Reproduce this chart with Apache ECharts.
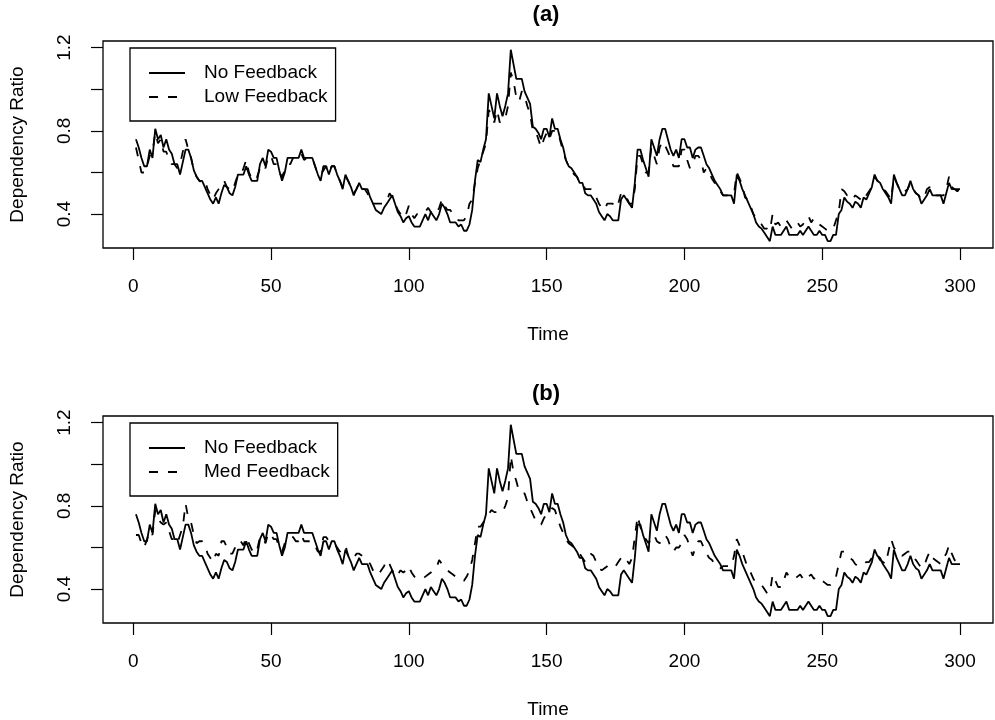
<!DOCTYPE html>
<html>
<head>
<meta charset="utf-8">
<script src="https://cdn.jsdelivr.net/npm/echarts@6/dist/echarts.min.js"></script>
<style>html,body{margin:0;padding:0;background:#fff;}#c{width:995px;height:720px;}</style>
</head>
<body>
<div id="c"></div>
<script>
const xTicks = [0, 50, 100, 150, 200, 250, 300];
const yTicks = [0.4, 0.6, 0.8, 1.0, 1.2];
const yLabels = [0.4, 0.8, 1.2];
const panelTitles = ['(a)', '(b)'];
const noFb = [
0.76,0.72,0.67,0.63,0.63,0.71,0.67,0.81,0.76,0.78,
0.72,0.76,0.71,0.69,0.64,0.64,0.59,0.65,0.71,0.71,
0.67,0.61,0.58,0.56,0.56,0.53,0.50,0.47,0.45,0.48,
0.45,0.50,0.54,0.53,0.50,0.49,0.53,0.59,0.59,0.59,
0.63,0.59,0.56,0.56,0.56,0.64,0.67,0.63,0.71,0.70,
0.67,0.67,0.61,0.56,0.60,0.67,0.67,0.67,0.67,0.67,
0.71,0.67,0.67,0.67,0.67,0.63,0.59,0.56,0.63,0.63,
0.59,0.63,0.63,0.59,0.56,0.52,0.59,0.56,0.53,0.49,
0.52,0.55,0.52,0.52,0.52,0.48,0.45,0.42,0.41,0.40,
0.43,0.45,0.47,0.49,0.45,0.41,0.39,0.36,0.38,0.39,
0.36,0.34,0.34,0.34,0.37,0.40,0.37,0.41,0.39,0.37,
0.40,0.45,0.43,0.40,0.36,0.36,0.36,0.34,0.35,0.32,
0.32,0.35,0.42,0.56,0.66,0.65,0.71,0.76,0.98,0.92,
0.86,0.98,0.92,0.87,0.92,0.98,1.19,1.12,1.05,1.05,
1.05,0.99,0.96,0.93,0.82,0.81,0.79,0.76,0.81,0.81,
0.77,0.86,0.81,0.81,0.76,0.72,0.66,0.63,0.62,0.60,
0.58,0.55,0.55,0.50,0.49,0.49,0.47,0.45,0.41,0.39,
0.37,0.40,0.39,0.37,0.37,0.37,0.47,0.49,0.47,0.45,
0.43,0.55,0.71,0.71,0.66,0.62,0.58,0.76,0.72,0.68,
0.76,0.81,0.81,0.76,0.71,0.68,0.71,0.67,0.76,0.76,
0.72,0.72,0.67,0.71,0.72,0.72,0.68,0.64,0.62,0.59,
0.56,0.54,0.52,0.49,0.49,0.49,0.49,0.45,0.59,0.56,
0.52,0.49,0.46,0.43,0.40,0.36,0.34,0.33,0.31,0.29,
0.27,0.34,0.30,0.30,0.30,0.32,0.34,0.30,0.30,0.30,
0.30,0.32,0.30,0.32,0.34,0.32,0.30,0.30,0.32,0.30,
0.30,0.27,0.27,0.30,0.30,0.40,0.42,0.48,0.46,0.45,
0.43,0.46,0.45,0.43,0.48,0.47,0.50,0.53,0.59,0.56,
0.55,0.52,0.50,0.48,0.45,0.59,0.55,0.52,0.49,0.49,
0.52,0.56,0.52,0.50,0.49,0.45,0.47,0.49,0.52,0.49,
0.49,0.49,0.49,0.45,0.50,0.55,0.52,0.52,0.52,0.52];
const lowFb = [
0.72,0.66,0.60,0.60,0.63,0.68,0.70,0.79,0.74,0.76,
0.70,0.70,0.66,0.64,0.64,0.62,0.64,0.70,0.76,0.71,
0.67,0.61,0.58,0.56,0.55,0.56,0.52,0.49,0.47,0.50,
0.52,0.54,0.56,0.53,0.52,0.51,0.55,0.59,0.59,0.62,
0.66,0.60,0.57,0.56,0.58,0.62,0.64,0.62,0.68,0.68,
0.64,0.64,0.60,0.58,0.61,0.64,0.64,0.67,0.67,0.67,
0.69,0.66,0.67,0.67,0.67,0.63,0.59,0.59,0.61,0.63,
0.60,0.63,0.63,0.59,0.56,0.53,0.58,0.56,0.53,0.50,
0.52,0.55,0.52,0.52,0.50,0.47,0.45,0.45,0.45,0.45,
0.45,0.46,0.50,0.48,0.45,0.42,0.40,0.38,0.40,0.44,
0.40,0.38,0.40,0.40,0.40,0.41,0.43,0.41,0.40,0.40,
0.43,0.47,0.44,0.42,0.42,0.40,0.39,0.37,0.37,0.37,
0.39,0.45,0.47,0.55,0.62,0.66,0.70,0.74,0.90,0.88,
0.84,0.90,0.84,0.86,0.86,0.92,1.08,1.04,0.96,0.94,
0.99,0.97,0.92,0.88,0.80,0.80,0.76,0.72,0.76,0.79,
0.76,0.80,0.80,0.80,0.75,0.70,0.66,0.63,0.61,0.59,
0.58,0.55,0.55,0.52,0.52,0.52,0.51,0.48,0.45,0.43,
0.42,0.45,0.45,0.45,0.43,0.45,0.50,0.48,0.48,0.45,
0.45,0.52,0.68,0.68,0.64,0.60,0.60,0.72,0.68,0.64,
0.72,0.75,0.73,0.70,0.67,0.63,0.63,0.63,0.71,0.71,
0.66,0.62,0.64,0.68,0.68,0.66,0.60,0.62,0.60,0.57,
0.55,0.54,0.51,0.49,0.49,0.49,0.49,0.50,0.60,0.57,
0.54,0.48,0.47,0.44,0.40,0.38,0.36,0.35,0.33,0.33,
0.32,0.40,0.35,0.36,0.34,0.35,0.37,0.35,0.33,0.34,
0.36,0.34,0.35,0.38,0.39,0.36,0.38,0.37,0.35,0.34,
0.33,0.32,0.33,0.33,0.37,0.41,0.52,0.51,0.49,0.49,
0.47,0.49,0.48,0.47,0.50,0.49,0.51,0.53,0.58,0.56,
0.55,0.52,0.51,0.49,0.47,0.58,0.55,0.52,0.50,0.51,
0.52,0.55,0.52,0.50,0.49,0.47,0.48,0.52,0.53,0.50,
0.49,0.49,0.49,0.49,0.52,0.58,0.53,0.52,0.51,0.52];
const medFb = [
0.66,0.66,0.62,0.60,0.64,0.68,0.66,0.78,0.74,0.72,
0.71,0.72,0.68,0.64,0.64,0.62,0.66,0.70,0.81,0.74,
0.72,0.66,0.62,0.63,0.63,0.61,0.57,0.55,0.53,0.57,
0.56,0.63,0.63,0.60,0.57,0.57,0.60,0.63,0.63,0.61,
0.65,0.62,0.59,0.57,0.59,0.65,0.65,0.62,0.67,0.66,
0.64,0.64,0.60,0.58,0.62,0.64,0.65,0.65,0.63,0.63,
0.66,0.63,0.63,0.63,0.63,0.61,0.58,0.58,0.65,0.65,
0.63,0.63,0.62,0.60,0.58,0.60,0.61,0.56,0.57,0.55,
0.57,0.57,0.56,0.55,0.54,0.52,0.49,0.47,0.47,0.49,
0.51,0.54,0.52,0.49,0.46,0.47,0.49,0.48,0.49,0.51,
0.48,0.46,0.45,0.45,0.45,0.46,0.47,0.48,0.49,0.50,
0.54,0.52,0.50,0.49,0.48,0.47,0.46,0.45,0.44,0.44,
0.46,0.49,0.54,0.62,0.70,0.70,0.72,0.74,0.76,0.78,
0.77,0.77,0.77,0.77,0.80,0.84,1.04,0.96,0.92,0.87,
0.86,0.86,0.82,0.79,0.76,0.73,0.71,0.71,0.74,0.76,
0.77,0.79,0.78,0.74,0.70,0.67,0.64,0.62,0.61,0.60,
0.58,0.57,0.55,0.53,0.55,0.57,0.56,0.53,0.50,0.49,
0.50,0.51,0.52,0.52,0.51,0.53,0.55,0.53,0.54,0.52,
0.55,0.65,0.75,0.70,0.66,0.64,0.62,0.65,0.66,0.63,
0.62,0.64,0.66,0.64,0.60,0.58,0.60,0.60,0.62,0.66,
0.64,0.60,0.56,0.60,0.63,0.63,0.60,0.57,0.55,0.54,
0.52,0.50,0.50,0.51,0.51,0.51,0.51,0.56,0.64,0.61,
0.58,0.54,0.50,0.48,0.45,0.43,0.42,0.42,0.40,0.38,
0.38,0.47,0.44,0.41,0.41,0.44,0.48,0.46,0.45,0.45,
0.46,0.47,0.45,0.44,0.46,0.47,0.45,0.46,0.45,0.44,
0.43,0.42,0.42,0.43,0.46,0.52,0.58,0.58,0.56,0.55,
0.54,0.52,0.51,0.51,0.52,0.53,0.53,0.55,0.57,0.56,
0.54,0.53,0.52,0.58,0.64,0.60,0.58,0.56,0.56,0.57,
0.58,0.58,0.55,0.54,0.52,0.50,0.51,0.55,0.58,0.55,
0.54,0.53,0.52,0.55,0.57,0.61,0.57,0.54,0.53,0.53];

const FONT = "'Liberation Sans', Arial, Helvetica, sans-serif";
const pair = arr => arr.map((v, i) => [i + 1, v]);

const chart = echarts.init(document.getElementById('c'), null, {renderer: 'canvas'});
const gridTops = [41, 416];
function xAxis(i) {
  return {
    type: 'value', gridIndex: i, min: -10.96, max: 311.96,
    name: 'Time', nameLocation: 'middle', nameGap: 77,
    nameTextStyle: {fontFamily: FONT, fontSize: 19, color: '#000'},
    axisLine: {show: false, onZero: false},
    splitLine: {show: false},
    axisTick: {show: true, inside: false, length: 12, customValues: xTicks, lineStyle: {color: '#000', width: 1.2}},
    axisLabel: {customValues: xTicks, margin: 29, fontFamily: FONT, fontSize: 19, color: '#000'}
  };
}
function yAxis(i) {
  return {
    type: 'value', gridIndex: i, min: 0.237, max: 1.232,
    name: 'Dependency Ratio', nameLocation: 'middle', nameGap: 76,
    nameTextStyle: {fontFamily: FONT, fontSize: 19, color: '#000'},
    axisLine: {show: false, onZero: false},
    splitLine: {show: false},
    axisTick: {show: true, inside: false, length: 12, customValues: yTicks, lineStyle: {color: '#000', width: 1.2}},
    axisLabel: {customValues: yLabels, rotate: 90, margin: 29, fontFamily: FONT, fontSize: 19, color: '#000',
      formatter: v => v.toFixed(1)}
  };
}
function legend(i, names) {
  return {
    orient: 'vertical', left: 130, top: gridTops[i] + 7,
    data: names, itemWidth: 36, itemHeight: 14, itemGap: 2,
    padding: [14, 8, 13, 18],
    borderColor: '#000', borderWidth: 1.3, backgroundColor: '#fff',
    selectedMode: false,
    itemStyle: {color: 'transparent', borderWidth: 0, opacity: 0},
    textStyle: {fontFamily: FONT, fontSize: 19, color: '#000', padding: [0, 0, 0, 14], lineHeight: 22}
  };
}
const solid = {color: '#000', width: 1.8, type: 'solid'};
const dashed = {color: '#000', width: 1.8, type: [9, 10]};
const option = {
  animation: false,
  backgroundColor: '#fff',
  title: panelTitles.map((t, i) => ({
    text: t, left: 546, top: i === 0 ? 4 : 383, textAlign: 'center', padding: 0,
    textStyle: {fontFamily: FONT, fontSize: 22, fontWeight: 'bold', color: '#000'}
  })),
  grid: gridTops.map(t => ({left: 100, right: 2, top: t, height: 207, show: true,
    borderColor: '#000', borderWidth: 1.3, backgroundColor: 'transparent'})),
  xAxis: [xAxis(0), xAxis(1)],
  yAxis: [yAxis(0), yAxis(1)],
  legend: [legend(0, ['No Feedback', 'Low Feedback']), legend(1, ['No Feedback', 'Med Feedback'])],
  series: [
    {name: 'No Feedback', type: 'line', xAxisIndex: 0, yAxisIndex: 0, data: pair(noFb), symbol: 'none', lineStyle: solid, itemStyle: {color: '#000'}, z: 3},
    {name: 'Low Feedback', type: 'line', xAxisIndex: 0, yAxisIndex: 0, data: pair(lowFb), symbol: 'none', lineStyle: dashed, itemStyle: {color: '#000'}, z: 2},
    {name: 'No Feedback', type: 'line', xAxisIndex: 1, yAxisIndex: 1, data: pair(noFb), symbol: 'none', lineStyle: solid, itemStyle: {color: '#000'}, z: 3},
    {name: 'Med Feedback', type: 'line', xAxisIndex: 1, yAxisIndex: 1, data: pair(medFb), symbol: 'none', lineStyle: dashed, itemStyle: {color: '#000'}, z: 2}
  ]
};
chart.setOption(option);
</script>
</body>
</html>
